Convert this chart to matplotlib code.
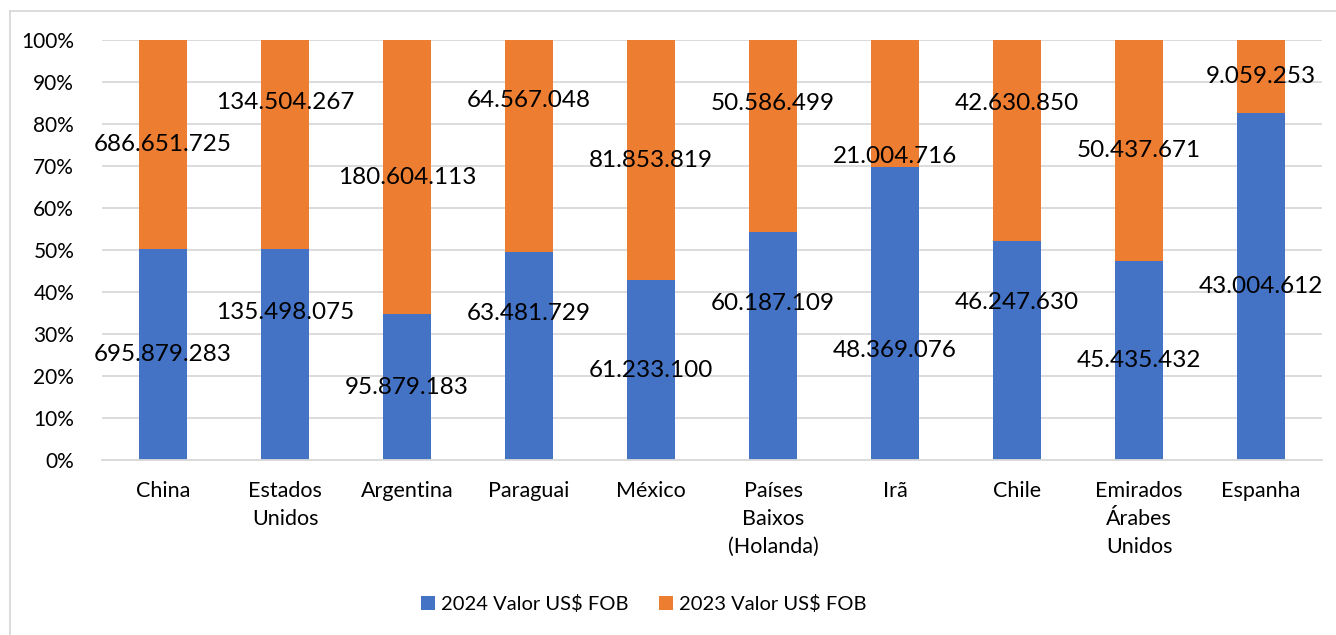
import numpy as np
import matplotlib.pyplot as plt
from matplotlib.lines import Line2D

# Data (US$ FOB)
paises = ["China", "Estados\nUnidos", "Argentina", "Paraguai", "México",
          "Países\nBaixos\n(Holanda)", "Irã", "Chile", "Emirados\nÁrabes\nUnidos",
          "Espanha"]
valor_2024 = [695879283, 135498075, 95879183, 63481729, 61233100,
              60187109, 48369076, 46247630, 45435432, 43004612]
valor_2023 = [686651725, 134504267, 180604113, 64567048, 81853819,
              50586499, 21004716, 42630850, 50437671, 9059253]

# label nudges (percentage points) as placed in the original chart
shift_2024 = [0, 10, 0, 10, 0, 10, -8.7, 11.4, 0, 0]
shift_2023 = [0, 10, 0, 10.7, 0, 7.6, -12.5, 8.8, 0, 0]

AZUL = "#4472C4"
LARANJA = "#ED7D31"
GRADE = "#D9D9D9"
FONTE = "Lato"

plt.rcParams['font.family'] = [FONTE, 'DejaVu Sans']


def fmt(v):
    return f"{v:,}".replace(",", ".")


v24 = np.array(valor_2024, dtype=float)
v23 = np.array(valor_2023, dtype=float)
total = v24 + v23
p24 = v24 / total * 100
p23 = v23 / total * 100
x = np.arange(len(paises))

fig = plt.figure(figsize=(13.36, 6.35), dpi=100)
ax = fig.add_axes([102 / 1336, 1 - 460 / 635, 1220 / 1336, 420 / 635])

largura = 0.40
ax.bar(x, p24, largura, color=AZUL, label="2024 Valor US$ FOB", zorder=2)
ax.bar(x, p23, largura, bottom=p24, color=LARANJA, label="2023 Valor US$ FOB", zorder=2)

# data labels
for i in range(len(x)):
    ax.text(x[i], p24[i] / 2 + shift_2024[i], fmt(valor_2024[i]), ha="center",
            va="center", fontsize=17.5, color="black", zorder=3)
    ax.text(x[i], p24[i] + p23[i] / 2 + shift_2023[i], fmt(valor_2023[i]), ha="center",
            va="center", fontsize=17.5, color="black", zorder=3)

ax.set_xlim(-0.5, len(x) - 0.5)
ax.set_ylim(0, 100)
ax.set_yticks(np.arange(0, 101, 10))
ax.set_yticklabels([f"{t}%" for t in range(0, 101, 10)], fontsize=15)
ax.set_xticks(x)
ax.set_xticklabels(paises, fontsize=15.5, linespacing=1.5, va="top")
ax.tick_params(axis="y", length=0, pad=20)
ax.tick_params(axis="x", length=0, pad=15)
ax.yaxis.grid(True, color=GRADE, linewidth=1.3, zorder=0)
ax.set_axisbelow(True)
for s in ["top", "right", "left"]:
    ax.spines[s].set_visible(False)
ax.spines["bottom"].set_color(GRADE)
ax.spines["bottom"].set_linewidth(1.3)

ax.legend(loc="center", bbox_to_anchor=(644 / 1336, 1 - 604 / 635),
          bbox_transform=fig.transFigure, ncol=2, frameon=False, fontsize=14.5,
          handlelength=0.7, handleheight=0.7, handletextpad=0.3, columnspacing=1.5)

# outer chart-area border (left and top edges visible)
fig.add_artist(Line2D([10 / 1336, 10 / 1336], [0, 1 - 11 / 635], transform=fig.transFigure,
                      color=GRADE, linewidth=1.3))
fig.add_artist(Line2D([10 / 1336, 1], [1 - 11 / 635, 1 - 11 / 635], transform=fig.transFigure,
                      color=GRADE, linewidth=1.3))

fig.savefig("out.png", dpi=100)
